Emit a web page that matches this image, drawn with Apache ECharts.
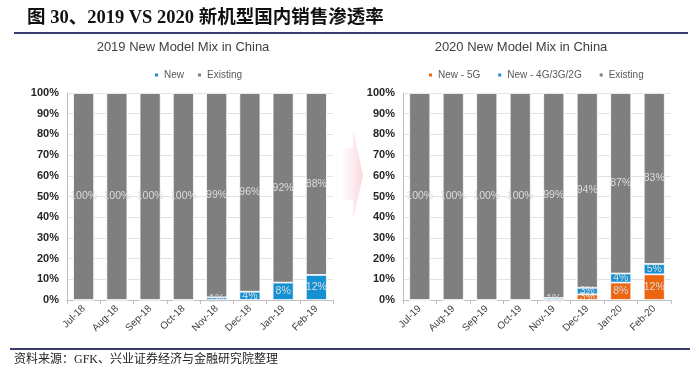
<!DOCTYPE html>
<html>
<head>
<meta charset="utf-8">
<script src="https://cdn.jsdelivr.net/npm/echarts@6/dist/echarts.min.js"></script>
<style>
html,body{margin:0;padding:0;background:#fff;}
#c{width:699px;height:379px;}
</style>
</head>
<body>
<div id="c"></div>
<script>
// ---- data ----
var months2019 = ['Jul-18','Aug-18','Sep-18','Oct-18','Nov-18','Dec-18','Jan-19','Feb-19'];
var new2019 = [0, 0, 0, 0, 1.3, 4, 8.4, 12.1];
var existing2019 = [100, 100, 100, 100, 98.7, 96, 91.6, 87.9];

var months2020 = ['Jul-19','Aug-19','Sep-19','Oct-19','Nov-19','Dec-19','Jan-20','Feb-20'];
var new5G2020 = [0, 0, 0, 0, 0, 2.7, 8.4, 12.4];
var new4G2020 = [0, 0, 0, 0, 1, 3.2, 4.4, 5];
var existing2020 = [100, 100, 100, 100, 99, 94.1, 87.2, 82.6];

var titleMain = '图 30、2019 VS 2020 新机型国内销售渗透率';
var titleLeft = '2019 New Model Mix in China';
var titleRight = '2020 New Model Mix in China';
var sourceText = '资料来源：GFK、兴业证券经济与金融研究院整理';

// ---- styles ----
var C_GREY = '#7f7f7f', C_BLUE = '#1590d3', C_ORANGE = '#ec6511';
var fontLatin = '"Liberation Sans", Arial, sans-serif';
var serifCJK = '"Liberation Serif", "Noto Sans CJK SC", serif';

function lbl(p){ return p.value > 0 ? Math.round(p.value) + '%' : ''; }
function barSeries(name, data, color, xi){
  return {
    name: name, type: 'bar', stack: 's' + xi, xAxisIndex: xi, yAxisIndex: xi,
    data: data, barWidth: 21,
    itemStyle: { color: color, borderColor: '#fff', borderWidth: 0.8 },
    label: { show: true, position: 'inside', formatter: lbl, color: '#dddddd',
             fontSize: 10.5, fontFamily: fontLatin, overflow: 'none' },
    labelLayout: { hideOverlap: false },
    emphasis: { disabled: true }
  };
}
function yAx(gi){
  return {
    type: 'value', gridIndex: gi, min: 0, max: 100, interval: 10,
    axisLabel: { formatter: '{value}%', fontSize: 11, fontWeight: 'bold', color: '#262626',
                 fontFamily: fontLatin, margin: 8 },
    axisLine: { show: true, lineStyle: { color: '#bfbfbf' } },
    axisTick: { show: false },
    splitLine: { lineStyle: { color: '#e3e3e3' } }
  };
}
function xAx(gi, cats){
  return {
    type: 'category', gridIndex: gi, data: cats,
    axisLine: { lineStyle: { color: '#bfbfbf' } },
    axisTick: { show: true, length: 4, lineStyle: { color: '#bfbfbf' } },
    axisLabel: { rotate: 45, interval: 0, fontSize: 10, color: '#404040', fontFamily: fontLatin, margin: 7 }
  };
}

var chart = echarts.init(document.getElementById('c'));
chart.setOption({
  animation: false,
  backgroundColor: '#fff',
  grid: [
    { left: 67, right: 366, top: 93, bottom: 79 },
    { left: 403, right: 28, top: 93, bottom: 79 }
  ],
  legend: [
    { data: ['New', 'Existing'], left: 148, top: 65, icon: 'rect', itemWidth: 5, itemHeight: 5,
      itemGap: 12, textStyle: { fontSize: 10, color: '#595959', fontFamily: fontLatin }, selectedMode: false },
    { data: ['New - 5G', 'New - 4G/3G/2G', 'Existing '], left: 422, top: 65, icon: 'rect', itemWidth: 5, itemHeight: 5,
      itemGap: 16, textStyle: { fontSize: 10, color: '#595959', fontFamily: fontLatin }, selectedMode: false }
  ],
  xAxis: [ xAx(0, months2019), xAx(1, months2020) ],
  yAxis: [ yAx(0), yAx(1) ],
  series: [
    barSeries('New', new2019, C_BLUE, 0),
    barSeries('Existing', existing2019, C_GREY, 0),
    barSeries('New - 5G', new5G2020, C_ORANGE, 1),
    barSeries('New - 4G/3G/2G', new4G2020, C_BLUE, 1),
    barSeries('Existing ', existing2020, C_GREY, 1)
  ],
  graphic: [
    { type: 'text', left: 27, top: 9, style: { text: titleMain, font: 'bold 18.5px ' + serifCJK, fill: '#111' } },
    { type: 'line', shape: { x1: 14, y1: 33, x2: 688, y2: 33 }, style: { stroke: '#3b3a70', lineWidth: 2 } },
    { type: 'text', x: 183, y: 47, style: { text: titleLeft, font: '13px ' + fontLatin, fill: '#404040',
      textAlign: 'center', textVerticalAlign: 'middle' } },
    { type: 'text', x: 521, y: 47, style: { text: titleRight, font: '13px ' + fontLatin, fill: '#404040',
      textAlign: 'center', textVerticalAlign: 'middle' } },
    { type: 'polygon', shape: { points: [[343,148],[353,148],[353,130],[363,175],[353,220],[353,200],[343,200]] },
      style: { fill: new echarts.graphic.LinearGradient(0, 0, 1, 0, [
        { offset: 0, color: 'rgba(252,225,230,0.15)' }, { offset: 1, color: 'rgba(251,208,216,0.9)' }]) } },
    { type: 'line', shape: { x1: 10, y1: 349, x2: 690, y2: 349 }, style: { stroke: '#3b3a70', lineWidth: 2 } },
    { type: 'text', left: 14, top: 354, style: { text: sourceText, font: '12px ' + serifCJK, fill: '#222' } }
  ]
});
</script>
</body>
</html>
